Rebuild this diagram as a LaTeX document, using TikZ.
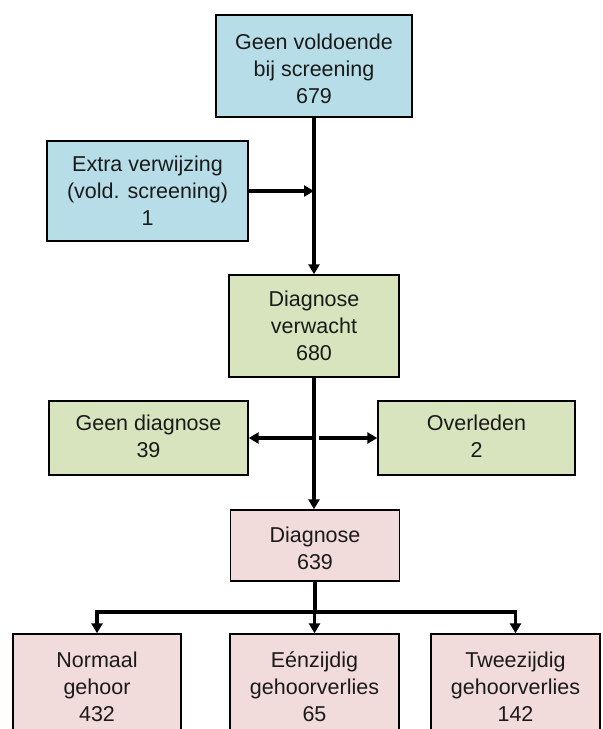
\documentclass[tikz,border=0pt]{standalone}
\usepackage{fontspec}
\setmainfont{Liberation Sans}
\usetikzlibrary{arrows.meta}
\definecolor{blueF}{HTML}{B7DEE8}
\definecolor{greenF}{HTML}{D7E4BD}
\definecolor{pinkF}{HTML}{F2DCDB}
\definecolor{txt}{HTML}{1A1A1A}
\newcommand\dnText[2]{\raisebox{-#1}[\height][\depth]{\begin{tabular}{@{}c@{}}#2\end{tabular}}}
\tikzset{
  box/.style={draw=black, line width=1.4pt, inner sep=0pt,
    text=txt, font=\fontsize{21.5}{27}\selectfont},
  conn/.style={line width=3.4pt, draw=black, line cap=rect},
  arr/.style={line width=3.4pt, draw=black, -{Triangle[length=10pt,width=11pt]}},
}
\begin{document}
\begin{tikzpicture}[x=1pt,y=-1pt]
\useasboundingbox (0,0) rectangle (603,729);
\clip (0,0) rectangle (603,729);
\node[box, fill=blueF, minimum width=196pt, minimum height=102pt] (a) at (314,66) {\dnText{5pt}{Geen voldoende\\bij screening\\679}};
\node[box, fill=blueF, minimum width=201pt, minimum height=100pt] (b) at (147.5,191) {\dnText{2pt}{Extra verwijzing\\(vold. screening)\\1}};
\node[box, fill=greenF, minimum width=170pt, minimum height=102pt] (c) at (314,326) {\dnText{2.5pt}{Diagnose\\verwacht\\680}};
\node[box, fill=greenF, minimum width=199pt, minimum height=74pt] (d) at (148.5,438) {\dnText{0.5pt}{Geen diagnose\\39}};
\node[box, fill=greenF, minimum width=197pt, minimum height=74pt] (e) at (476.5,438) {\dnText{0.5pt}{Overleden\\2}};
\node[box, fill=pinkF, minimum width=169pt, minimum height=71pt] (f) at (315,545.5) {\dnText{5pt}{Diagnose\\639}};
\node[box, fill=pinkF, minimum width=168pt, minimum height=110pt] (g) at (97,689) {\dnText{0pt}{Normaal\\gehoor\\432}};
\node[box, fill=pinkF, minimum width=169pt, minimum height=110pt] (h) at (314.5,689) {\dnText{0pt}{Eénzijdig\\gehoorverlies\\65}};
\node[box, fill=pinkF, minimum width=169pt, minimum height=110pt] (i) at (515.5,689) {\dnText{0pt}{Tweezijdig\\gehoorverlies\\142}};
% main spine
\draw[arr] (a.south) -- (c.north);
\draw[arr] (b.east) -- (b.east -| a.south);
\draw[arr] (c.south) -- (c.south |- f.north);
\draw[arr] ([xshift=-2pt]c.south |- d.east) -- (d.east);
\draw[arr] ([xshift=5pt]c.south |- e.west) -- (e.west);
% bottom branching
\coordinate (j) at (315,612);
\draw[conn] (f.south) -- (j);
\draw[conn] (j -| g.north) -- (j -| i.north);
\draw[arr] (j -| g.north) -- (g.north);
\draw[arr] (j -| h.north) -- (h.north);
\draw[arr] (j -| i.north) -- (i.north);
\end{tikzpicture}
\end{document}
